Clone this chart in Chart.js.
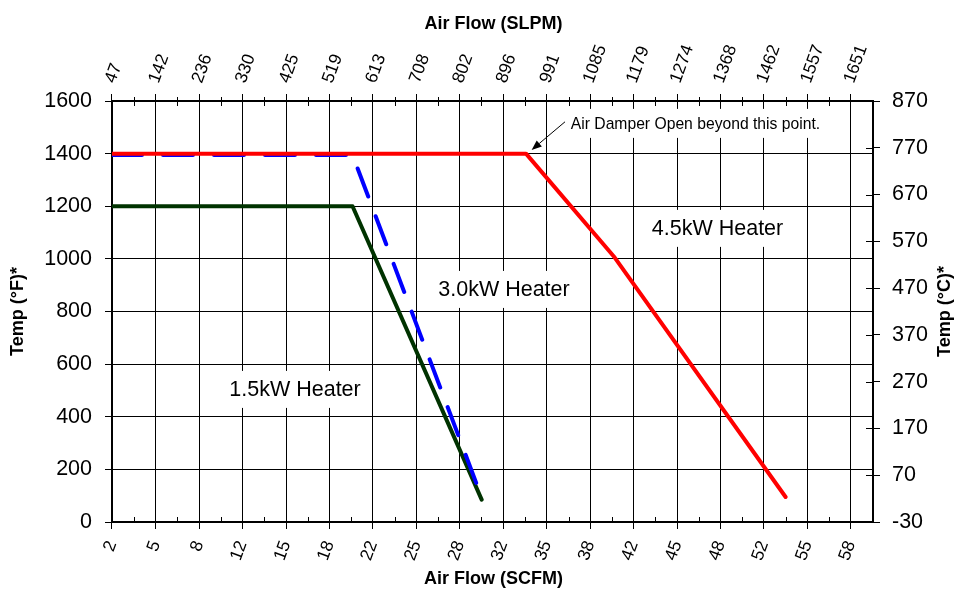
<!DOCTYPE html>
<html><head><meta charset="utf-8">
<script src="https://cdn.jsdelivr.net/npm/chart.js@4.4.1/dist/chart.umd.min.js"></script>
<style>html,body{margin:0;padding:0;background:#fff;} #c{display:block;}</style>
</head><body>
<canvas id="c" width="956" height="591"></canvas>
<script>
// ---- data ----
const scfmTickLabels = [2,5,8,12,15,18,22,25,28,32,35,38,42,45,48,52,55,58];
const slpmTickLabels = [47,142,236,330,425,519,613,708,802,896,991,1085,1179,1274,1368,1462,1557,1651];
const tempFTicks = [0,200,400,600,800,1000,1200,1400,1600];
const tempCTicks = [-30,70,170,270,370,470,570,670,770,870];
const SLPM_PER_SCFM = 28.3168;
const flowMin = 1.66, flowMax = 60;

const heater45Flow = [1.66, 33.4, 40.2, 53.3];
const heater45Temp = [1400, 1400, 1005, 95];
const heater30Flow = [1.66, 20.1, 29.8];
const heater30Temp = [1395, 1395, 120];
const heater15Flow = [1.66, 20.1, 30.0];
const heater15Temp = [1200, 1200, 85];

const seriesNames = ['4.5kW Heater', '3.0kW Heater', '1.5kW Heater'];
const noteText = 'Air Damper Open beyond this point.';
const titles = {top:'Air Flow (SLPM)', bottom:'Air Flow (SCFM)', left:'Temp (°F)*', right:'Temp (°C)*'};

const FONT = "'Liberation Sans', Arial, Helvetica, sans-serif";
const pts = (xs, ys) => xs.map((v, i) => ({x: v, y: ys[i]}));

// label placement (data coordinates)
const seriesLabelPos = [{x: 48.08, y: 1114}, {x: 31.71, y: 882}, {x: 15.69, y: 502}];
const notePos = {x: 36.83, y: 1494};
const arrowTail = {x: 36.39, y: 1521}, arrowTip = {x: 33.83, y: 1414};

const overlay = {
  id: 'overlay',
  beforeDatasetsDraw(chart) {
    const ctx = chart.ctx, sx = chart.scales.x, sy = chart.scales.y;
    ctx.save();
    ctx.fillStyle = '#fff';
    ctx.font = `21.5px ${FONT}`;
    seriesNames.forEach((t, i) => {
      const px = sx.getPixelForValue(seriesLabelPos[i].x), py = sy.getPixelForValue(seriesLabelPos[i].y);
      const w = ctx.measureText(t).width;
      ctx.fillRect(px - w / 2 - 6, py - 19, w + 12, 37);
    });
    ctx.font = `15.7px ${FONT}`;
    const nx = sx.getPixelForValue(notePos.x), ny = sy.getPixelForValue(notePos.y);
    const nw = ctx.measureText(noteText).width;
    ctx.fillRect(nx - 3, ny - 20, nw + 8, 29);
    ctx.restore();
  },
  afterDatasetsDraw(chart) {
    const ctx = chart.ctx, sx = chart.scales.x, sy = chart.scales.y;
    ctx.save();
    ctx.fillStyle = '#000';
    ctx.font = `21.5px ${FONT}`;
    ctx.textAlign = 'center';
    ctx.textBaseline = 'middle';
    seriesNames.forEach((t, i) => {
      ctx.fillText(t, sx.getPixelForValue(seriesLabelPos[i].x), sy.getPixelForValue(seriesLabelPos[i].y));
    });
    ctx.font = `15.7px ${FONT}`;
    ctx.textAlign = 'left';
    ctx.textBaseline = 'alphabetic';
    ctx.fillText(noteText, sx.getPixelForValue(notePos.x), sy.getPixelForValue(notePos.y));
    // arrow
    const x1 = sx.getPixelForValue(arrowTail.x), y1 = sy.getPixelForValue(arrowTail.y);
    const x2 = sx.getPixelForValue(arrowTip.x), y2 = sy.getPixelForValue(arrowTip.y);
    const ang = Math.atan2(y2 - y1, x2 - x1);
    const L = 10, W = 4;
    const bx = x2 - L * Math.cos(ang), by = y2 - L * Math.sin(ang);
    ctx.strokeStyle = '#000'; ctx.lineWidth = 1;
    ctx.beginPath(); ctx.moveTo(x1, y1); ctx.lineTo(bx, by); ctx.stroke();
    ctx.beginPath();
    ctx.moveTo(x2, y2);
    ctx.lineTo(bx + W * Math.sin(ang), by - W * Math.cos(ang));
    ctx.lineTo(bx - W * Math.sin(ang), by + W * Math.cos(ang));
    ctx.closePath(); ctx.fill();
    ctx.restore();
  },
  afterDraw(chart) {
    const ctx = chart.ctx, a = chart.chartArea, sx = chart.scales.x, sy2 = chart.scales.y2;
    ctx.save();
    ctx.strokeStyle = '#000'; ctx.lineWidth = 1;
    // minor ticks on x axes
    const tv = sx.ticks.map(t => t.value);
    for (let i = 0; i < tv.length - 1; i++) {
      const px = Math.round(sx.getPixelForValue((tv[i] + tv[i + 1]) / 2)) + 0.5;
      ctx.beginPath();
      ctx.moveTo(px, a.bottom); ctx.lineTo(px, a.bottom - 5);
      ctx.moveTo(px, a.top - 4); ctx.lineTo(px, a.top + 5);
      ctx.stroke();
    }
    // inner ticks on right axis
    sy2.ticks.forEach(t => {
      const py = Math.round(sy2.getPixelForValue(t.value)) + 0.5;
      ctx.beginPath(); ctx.moveTo(a.right, py); ctx.lineTo(a.right - 7, py); ctx.stroke();
    });
    // axis titles
    ctx.fillStyle = '#000';
    ctx.font = `bold 18px ${FONT}`;
    ctx.textAlign = 'center'; ctx.textBaseline = 'middle';
    const cx = (a.left + a.right) / 2 + 1, cy = (a.top + a.bottom) / 2;
    ctx.fillText(titles.top, cx, 24);
    ctx.fillText(titles.bottom, cx, 579);
    ctx.save(); ctx.translate(18, cy); ctx.rotate(-Math.PI / 2); ctx.fillText(titles.left, 0, 0); ctx.restore();
    ctx.save(); ctx.translate(945, cy); ctx.rotate(-Math.PI / 2); ctx.fillText(titles.right, 0, 0); ctx.restore();
    ctx.restore();
  }
};

const tickFontBig = {family: FONT, size: 21.5};
const tickFontRot = {family: FONT, size: 17.5};

new Chart(document.getElementById('c'), {
  type: 'line',
  data: {
    datasets: [
      {label: seriesNames[0], data: pts(heater45Flow, heater45Temp), borderColor: '#ff0000', borderWidth: 4, order: 1},
      {label: seriesNames[1], data: pts(heater30Flow, heater30Temp), borderColor: '#0000ff', borderWidth: 4, borderDash: [30, 21], order: 2},
      {label: seriesNames[2], data: pts(heater15Flow, heater15Temp), borderColor: '#003300', borderWidth: 4, order: 3}
    ].map(d => Object.assign(d, {pointRadius: 0, fill: false, tension: 0, borderCapStyle: 'round', borderJoinStyle: 'round', xAxisID: 'x', yAxisID: 'y'}))
  },
  options: {
    responsive: false, animation: false, devicePixelRatio: 1,
    layout: {padding: 0},
    plugins: {legend: {display: false}, tooltip: {enabled: false}},
    scales: {
      x: {
        type: 'linear', position: 'bottom', min: flowMin, max: flowMax,
        afterBuildTicks: s => { s.ticks = slpmTickLabels.map(v => ({value: v / SLPM_PER_SCFM})); },
        afterFit: s => { s.height = 69; },
        ticks: {autoSkip: false, minRotation: 70, maxRotation: 70, padding: 9, color: '#000', font: tickFontRot,
                callback: (v, i) => String(scfmTickLabels[i])},
        grid: {color: '#000', lineWidth: 1, tickLength: 7, tickColor: '#000'},
        border: {color: '#000', width: 2}
      },
      x2: {
        type: 'linear', position: 'top', min: flowMin, max: flowMax,
        afterBuildTicks: s => { s.ticks = slpmTickLabels.map(v => ({value: v / SLPM_PER_SCFM})); },
        afterFit: s => { s.height = 101; },
        ticks: {autoSkip: false, minRotation: 70, maxRotation: 70, padding: 8, labelOffset: 18, color: '#000', font: tickFontRot,
                callback: (v, i) => String(slpmTickLabels[i])},
        grid: {drawOnChartArea: false, color: '#000', lineWidth: 1, tickLength: 7, tickColor: '#000'},
        border: {color: '#000', width: 2}
      },
      y: {
        type: 'linear', position: 'left', min: tempFTicks[0], max: tempFTicks[tempFTicks.length - 1],
        afterBuildTicks: s => { s.ticks = tempFTicks.map(v => ({value: v})); },
        afterFit: s => { s.width = 112; },
        ticks: {padding: 13, color: '#000', font: tickFontBig, callback: v => String(v)},
        grid: {color: '#000', lineWidth: 1, tickLength: 7, tickColor: '#000'},
        border: {color: '#000', width: 2}
      },
      y2: {
        type: 'linear', position: 'right', min: tempCTicks[0], max: tempCTicks[tempCTicks.length - 1],
        afterBuildTicks: s => { s.ticks = tempCTicks.map(v => ({value: v})); },
        afterFit: s => { s.width = 83; },
        ticks: {padding: 12, color: '#000', font: tickFontBig, callback: v => String(v)},
        grid: {drawOnChartArea: false, color: '#000', lineWidth: 1, tickLength: 7, tickColor: '#000'},
        border: {color: '#000', width: 2}
      }
    }
  },
  plugins: [overlay]
});
</script>
</body></html>
